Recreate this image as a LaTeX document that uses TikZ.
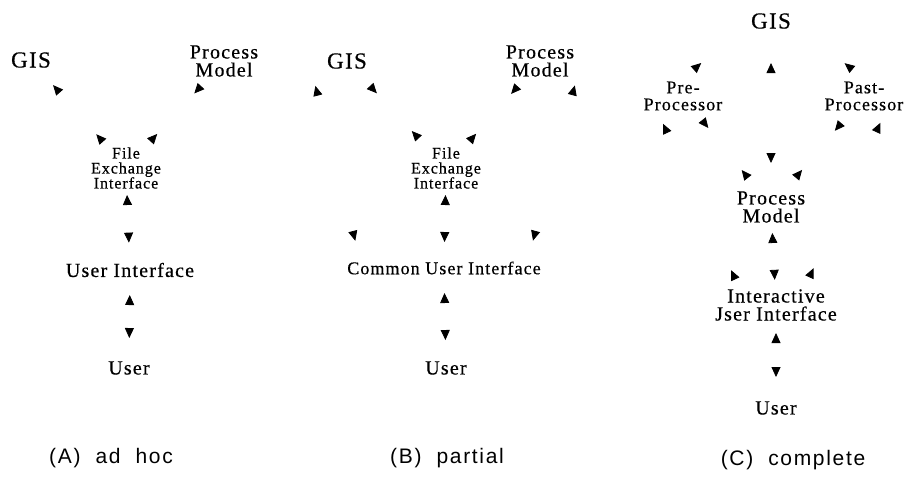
\documentclass[tikz,border=0pt]{standalone}
\usepackage{fontspec}
\newfontfamily\figfont{Liberation Serif}[LetterSpace=6,FakeBold=0.5]
\newfontfamily\capfont{Liberation Sans}[LetterSpace=8,WordSpace=2]
\usetikzlibrary{arrows.meta}

\begin{document}
\begin{tikzpicture}[x=0.5pt,y=-0.5pt,
    >={Triangle[length=5pt,width=4.5pt]},
    lbl/.style={inner sep=1pt,align=center},
    gis/.style={lbl,font=\figfont\fontsize{11.5}{12}\selectfont},
    mid/.style={lbl,font=\figfont\fontsize{10}{9}\selectfont},
    small/.style={lbl,font=\figfont\fontsize{8}{7.5}\selectfont},
    proc/.style={lbl,font=\figfont\fontsize{9}{8.5}\selectfont},
    subcap/.style={inner sep=0pt,font=\capfont\fontsize{10.5}{12}\selectfont},
    link/.style={dash pattern=on 0pt off 2000pt}]
    \useasboundingbox (0,0) rectangle (909,484);

    % (A) ad hoc
    \node[gis] (gisA) at (31,60) {GIS};
    \node[mid] (pmA) at (224,61) {Process\\Model};
    \node[small] (feiA) at (126,168) {File\\Exchange\\Interface};
    \node[mid] (uiA) at (130,270) {User Interface};
    \node[mid] (userA) at (129,368) {User};

    \draw[link,<-<,shorten <=16.7pt,shorten >=17.5pt] (gisA.center) -- (feiA.center);
    \draw[link,>-<,shorten <=17pt,shorten >=18.1pt] (pmA.center) -- (feiA.center);
    \draw[link,<->,shorten <=13.5pt,shorten >=13.7pt] (feiA.center) -- (uiA.center);
    \draw[link,<->,shorten <=12.5pt,shorten >=15pt] (uiA.center) -- (userA.center);

    % (B) partial
    \node[gis,minimum width=35pt] (gisB) at (347,61) {GIS};
    \node[mid] (pmB) at (540,61) {Process\\Model};
    \node[small] (feiB) at (446,168) {File\\Exchange\\Interface};
    \node[lbl,font=\figfont\fontsize{9}{10}\selectfont] (cuiB) at (444,268) {Common User Interface};
    \node[mid] (userB) at (446,368) {User};

    \draw[link,<->,shorten <=7.6pt,shorten >=9.5pt] (gisB.south west) -- (cuiB.174);
    \draw[link,>-<,shorten <=17pt,shorten >=20.2pt] (gisB.center) -- (feiB.center);
    \draw[link,>-<,shorten <=16.9pt,shorten >=17.8pt] (pmB.center) -- (feiB.center);
    \draw[link,<->,shorten <=3.3pt,shorten >=9.6pt] (pmB.south east) -- (cuiB.6);
    \draw[link,<->,shorten <=13.5pt,shorten >=13pt] (feiB.center) -- (cuiB.center);
    \draw[link,<->,shorten <=12.5pt,shorten >=14pt] (cuiB.center) -- (userB.center);

    % (C) complete
    \node[gis] (gisC) at (771,21) {GIS};
    \node[proc] (preC) at (683,96) {Pre-\\Processor};
    \node[proc] (pastC) at (864,96) {Past-\\Processor};
    \node[mid] (pmC) at (771,207) {Process\\Model};
    \node[mid] (iuiC) at (776,305) {Interactive\\Jser Interface};
    \node[mid] (userC) at (776,408) {User};

    \draw[link,->,shorten >=31.7pt] (preC.north) -- (gisC.west);
    \draw[link,->,shorten >=33.2pt] (pastC.north) -- (gisC.east);
    \draw[link,<->,shorten <=21pt,shorten >=22pt] (gisC.center) -- (pmC.center);
    \draw[link,>-<,shorten <=15.4pt,shorten >=18.6pt] (preC.center) -- (pmC.center);
    \draw[link,>-<,shorten <=19.2pt,shorten >=17.7pt] (pmC.center) -- (pastC.center);
    \draw[link,<-<,shorten <=6pt,shorten >=4.2pt] (preC.214) -- (iuiC.154);
    \draw[link,<-<,shorten <=5.5pt,shorten >=5.3pt] (pastC.321) -- (iuiC.32);
    \draw[link,<->,shorten <=13pt,shorten >=12.6pt] (pmC.center) -- (iuiC.center);
    \draw[link,<->,shorten <=14pt,shorten >=15.5pt] (iuiC.center) -- (userC.center);

    % captions
    \node[subcap] (capA) at (111,458) {(A) ad hoc};
    \node[subcap] (capB) at (447,458) {(B) partial};
    \node[subcap] (capC) at (793,460) {(C) complete};
\end{tikzpicture}
\end{document}
